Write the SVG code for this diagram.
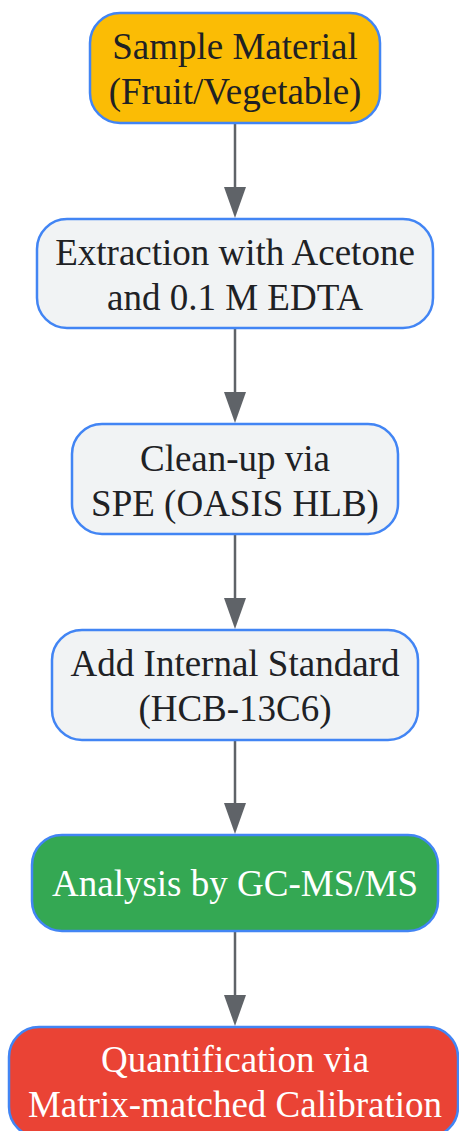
<svg xmlns="http://www.w3.org/2000/svg" width="459" height="1131" viewBox="0 0 459 1131">
<defs>
<style>
.n{stroke:#4285F4;stroke-width:2.5}
.t{font-family:"Liberation Serif","Times New Roman",serif;font-size:37px;text-anchor:middle;fill:#202124}
.w{fill:#FFFFFF}
.e{stroke:#5F6368;stroke-width:2.5;fill:none}
.h{fill:#5F6368}
</style>
</defs>
<rect width="459" height="1131" fill="#FFFFFF"/>
<g id="connectors">
<path class="e" d="M235,123 V188"/><path class="h" d="M224,187 L246,187 L235,218 Z"/>
<path class="e" d="M235,328 V393"/><path class="h" d="M224,392 L246,392 L235,423 Z"/>
<path class="e" d="M235,534 V599"/><path class="h" d="M224,598 L246,598 L235,629 Z"/>
<path class="e" d="M235,740 V804"/><path class="h" d="M224,803 L246,803 L235,834 Z"/>
<path class="e" d="M235,931 V996"/><path class="h" d="M224,995 L246,995 L235,1026 Z"/>
</g>
<g id="n1"><rect class="n" x="90" y="13" width="290" height="110" rx="30" fill="#FBBC05"/>
<text class="t" x="235" y="59">Sample Material</text><text class="t" x="235" y="104">(Fruit/Vegetable)</text></g>
<g id="n2"><rect class="n" x="37" y="219" width="396" height="109" rx="30" fill="#F1F3F4"/>
<text class="t" x="235" y="265">Extraction with Acetone</text><text class="t" x="235" y="310">and 0.1 M EDTA</text></g>
<g id="n3"><rect class="n" x="72" y="424" width="326" height="110" rx="30" fill="#F1F3F4"/>
<text class="t" x="235" y="471">Clean-up via</text><text class="t" x="235" y="516">SPE (OASIS HLB)</text></g>
<g id="n4"><rect class="n" x="52" y="630" width="366" height="110" rx="30" fill="#F1F3F4"/>
<text class="t" x="235" y="676">Add Internal Standard</text><text class="t" x="235" y="721">(HCB-13C6)</text></g>
<g id="n5"><rect class="n" x="32" y="835" width="406" height="96" rx="30" fill="#34A853"/>
<text class="t w" x="235" y="896">Analysis by GC-MS/MS</text></g>
<g id="n6"><rect class="n" x="9" y="1027" width="449" height="110" rx="30" fill="#EA4335"/>
<text class="t w" x="235" y="1072">Quantification via</text><text class="t w" x="235" y="1117">Matrix-matched Calibration</text></g>
</svg>
